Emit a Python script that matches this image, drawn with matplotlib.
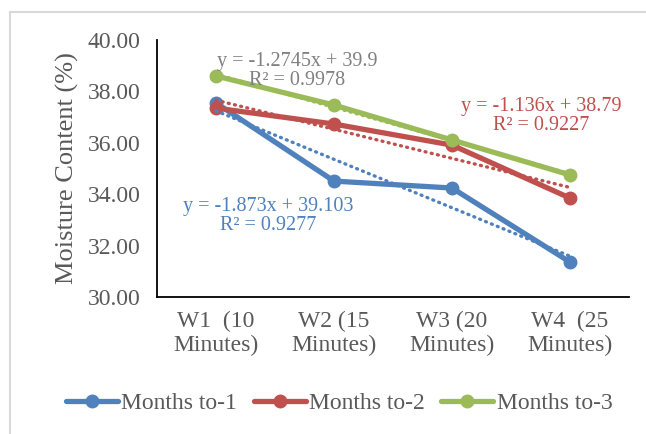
import numpy as np
import matplotlib
matplotlib.use("Agg")
import matplotlib.pyplot as plt
from matplotlib.patches import Rectangle

categories = ["W1  (10\nMinutes)", "W2 (15\nMinutes)", "W3 (20\nMinutes)", "W4  (25\nMinutes)"]
months1 = [37.55, 34.51, 34.24, 31.36]
months2 = [37.35, 36.73, 35.91, 33.85]
months3 = [38.60, 37.47, 36.11, 34.75]
series_names = ["Months to-1", "Months to-2", "Months to-3"]
eq_texts = ["y = -1.873x + 39.103\nR² = 0.9277",
            "y = -1.136x + 38.79\nR² = 0.9227",
            "y = -1.2745x + 39.9\nR² = 0.9978"]
yticks = [30, 32, 34, 36, 38, 40]

colors = ["#4F81BD", "#C0504D", "#9BBB59"]
eq_colors = ["#4F81BD", "#C0504D", "#808080"]

plt.rcParams['font.family'] = ['Liberation Serif', 'DejaVu Serif']

W, H = 646, 434
fig = plt.figure(figsize=(W/100, H/100), dpi=100)
fig.patches.append(Rectangle((10/W, -0.1), 1.2, 1 - 12/H + 0.1, transform=fig.transFigure,
                             fill=False, edgecolor="#D9D9D9", linewidth=1.5))
ax = fig.add_axes([157/W, 1-297/H, (629-157)/W, (297-40)/H])

x = np.arange(len(categories))
data = [months1, months2, months3]
handles = []
for vals, c, name in zip(data, colors, series_names):
    h, = ax.plot(x, vals, color=c, lw=3.8, marker='o', ms=9, label=name,
                 solid_capstyle='round', zorder=3)
    handles.append(h)
    k, b = np.polyfit(x + 1, vals, 1)
    ax.plot(x, k*(x+1) + b, color=c, lw=2.4, linestyle=(0, (0.3, 1.6)),
            dash_capstyle='round', zorder=4)

ax.set_xlim(-0.5, len(categories) - 0.5)
ax.set_ylim(30, 40)
ax.set_yticks(yticks)
ax.set_yticklabels([f"{v:.2f}" for v in yticks])
ax.set_xticks(x)
ax.set_xticklabels(categories, linespacing=1.2)
ax.tick_params(axis='both', length=0, labelsize=17, colors="#595959")
ax.tick_params(axis='x', pad=10)
ax.tick_params(axis='y', pad=12)
for s in ['top', 'right']:
    ax.spines[s].set_visible(False)
for s in ['left', 'bottom']:
    ax.spines[s].set_linewidth(1.3)
    ax.spines[s].set_color("black")
ax.set_ylabel("Moisture Content (%)", fontsize=19, color="#595959", labelpad=6)

eq_pos = [(268, 216), (541, 116), (297, 71)]
for (px, py), t, c in zip(eq_pos, eq_texts, eq_colors):
    fig.text(px/W, 1-py/H, t, ha='center', va='center', fontsize=14.5, color=c,
             linespacing=1.05)

leg = fig.legend(handles=handles, loc='center', bbox_to_anchor=(0.525, 1-403/H), ncol=3,
                 frameon=False, fontsize=17, handlelength=2.2, handletextpad=0.15,
                 columnspacing=0.7)
for t in leg.get_texts():
    t.set_color("#595959")

fig.savefig("out.png", dpi=100)
